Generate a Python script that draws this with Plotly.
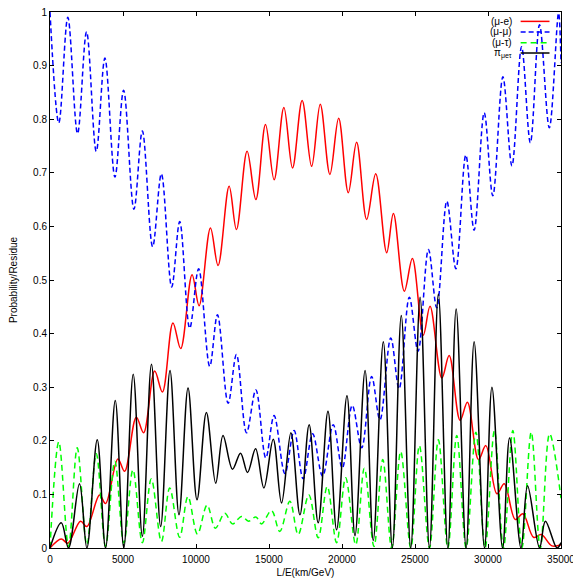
import plotly.graph_objects as go

# ---- data ----
x_mue = [0, 770, 1220, 2090, 2525, 3395, 3805, 4650, 5110, 5910, 6410, 7170, 7700, 8420, 8950,
         9730, 10210, 10990, 11510, 12270, 12770, 13500, 14100, 14760, 15350, 16020, 16610, 17270,
         17920, 18510, 19170, 19770, 20430, 21000, 21690, 22310, 23060, 23520, 24270, 24820, 25570,
         26030, 26840, 27340, 28090, 28590, 29350, 29850, 30610, 31110, 31870, 32390, 33120, 33650,
         34380, 35000]
y_mue = [0, 0.017, 0.009, 0.05, 0.04, 0.099, 0.083, 0.166, 0.143, 0.244, 0.215, 0.33, 0.291, 0.42,
         0.372, 0.51, 0.452, 0.597, 0.527, 0.675, 0.594, 0.74, 0.65, 0.79, 0.687, 0.822, 0.709, 0.835,
         0.712, 0.828, 0.697, 0.802, 0.663, 0.757, 0.613, 0.698, 0.551, 0.624, 0.479, 0.54, 0.397,
         0.451, 0.317, 0.359, 0.238, 0.272, 0.165, 0.191, 0.101, 0.12, 0.053, 0.064, 0.02, 0.025,
         0.004, 0.006]

x_mumu = [0, 605, 1220, 1886, 2504, 3168, 3760, 4447, 5042, 5749, 6325, 7031, 7628, 8335, 8884, 9570,
          10180, 10940, 11470, 12200, 12770, 13460, 14100, 14780, 15350, 16090, 16720, 17340, 17990,
          18670, 19400, 20020, 20700, 21350, 22030, 22600, 23340, 23910, 24610, 25210, 25920, 26490,
          27180, 27800, 28480, 29050, 29740, 30330, 31020, 31640, 32300, 32900, 33530, 34200, 34830,
          35000]
y_mumu = [1.0, 0.793, 0.99, 0.773, 0.963, 0.74, 0.914, 0.692, 0.854, 0.632, 0.778, 0.562, 0.698,
          0.487, 0.609, 0.41, 0.521, 0.339, 0.435, 0.27, 0.361, 0.215, 0.295, 0.168, 0.247, 0.139,
          0.219, 0.129, 0.213, 0.134, 0.23, 0.149, 0.266, 0.187, 0.32, 0.239, 0.392, 0.297, 0.468,
          0.367, 0.557, 0.448, 0.647, 0.521, 0.733, 0.593, 0.812, 0.657, 0.879, 0.713, 0.935, 0.756,
          0.976, 0.784, 0.998, 0.905]

x_mutau = [0, 605, 1270, 1865, 2525, 3170, 3805, 4440, 5055, 5680, 6325, 6940, 7630, 8200, 8880,
           9450, 10100, 10760, 11330, 11970, 12500, 13120, 13600, 14100, 14490, 15170, 15740, 16430,
           17000, 17730, 18370, 18990, 19630, 20250, 20940, 21530, 22190, 22790, 23400, 24020, 24710,
           25300, 25990, 26600, 27250, 27860, 28500, 29170, 29800, 30440, 31060, 31700, 32320, 32960,
           33580, 34220, 35000]
y_mutau = [0, 0.198, 0.003, 0.187, 0.006, 0.176, 0.003, 0.162, 0.009, 0.146, 0.01, 0.129, 0.012,
           0.112, 0.02, 0.096, 0.026, 0.08, 0.037, 0.065, 0.045, 0.059, 0.05, 0.058, 0.045, 0.07,
           0.031, 0.087, 0.025, 0.099, 0.019, 0.115, 0.01, 0.131, 0.006, 0.149, 0.003, 0.165, 0.0,
           0.18, 0.0, 0.191, 0.0, 0.202, 0.0, 0.21, 0.0, 0.216, 0.0, 0.219, 0.0, 0.219, 0.0, 0.216,
           0.0, 0.213, 0.093]

x_res = [0, 770, 1270, 2020, 2525, 3235, 3805, 4470, 5055, 5700, 6325, 6950, 7580, 8220, 8835, 9455,
         10070, 10710, 11350, 11850, 12500, 13050, 13530, 14080, 14650, 15290, 15860, 16500, 17120,
         17750, 18370, 19040, 19630, 20340, 20890, 21580, 22140, 22830, 23450, 24060, 24710, 25350,
         25990, 26600, 27250, 27820, 28500, 29050, 29760, 30270, 31000, 31480, 32260, 32710, 33530,
         33930, 34730, 35000]
y_res = [0, 0.047, 0, 0.12, 0, 0.202, 0, 0.275, 0, 0.324, 0.022, 0.343, 0.04, 0.331, 0.062, 0.2985,
         0.09, 0.253, 0.121, 0.21, 0.147, 0.177, 0.141, 0.185, 0.112, 0.203, 0.084, 0.215, 0.062,
         0.23, 0.047, 0.255, 0.034, 0.284, 0.023, 0.331, 0.014, 0.385, 0, 0.434, 0, 0.468, 0, 0.474,
         0, 0.446, 0, 0.385, 0, 0.30, 0, 0.205, 0, 0.116, 0, 0.05, 0, 0.01]

series_names = ["(μ-e)", "(μ-μ)", "(μ-τ)", "π<sub>μeτ</sub>"]
series_x = [x_mue, x_mumu, x_mutau, x_res]
series_y = [y_mue, y_mumu, y_mutau, y_res]

x_ticks = [0, 5000, 10000, 15000, 20000, 25000, 30000, 35000]
x_ticktext = ["0", "5000", "10000", "15000", "20000", "25000", "30000", "35000"]
y_ticks = [0, 0.1, 0.2, 0.3, 0.4, 0.5, 0.6, 0.7, 0.8, 0.9, 1.0]
y_ticktext = ["0", "0.1", "0.2", "0.3", "0.4", "0.5", "0.6", "0.7", "0.8", "0.9", "1"]

x_title = "L/E(km/GeV)"
y_title = "Probability/Residue"

# ---- styles ----
colors = ["#ff0000", "#0000ff", "#00ff00", "#000000"]
dashes = ["solid", "5px,3px", "6px,4px", "solid"]
FONT = "Liberation Sans, Arial, sans-serif"

fig = go.Figure()
for xs, ys, n, c, d in zip(series_x, series_y, series_names, colors, dashes):
    fig.add_trace(go.Scatter(x=xs, y=ys, mode="lines", name=n, showlegend=False,
                             line=dict(color=c, width=1.5, dash=d, shape="spline", smoothing=1.0)))

# gnuplot-style legend: text right-aligned, sample line to the right
leg_y = [0.9825, 0.9627, 0.9427, 0.9235]
for n, c, d, ly in zip(series_names, colors, dashes, leg_y):
    fig.add_annotation(xref="paper", yref="paper", x=0.909, y=ly, text=n, showarrow=False,
                       xanchor="right", yanchor="middle", font=dict(family=FONT, size=10, color="#000"))
    fig.add_shape(type="line", xref="paper", yref="paper", x0=0.921, x1=0.9775, y0=ly, y1=ly,
                  line=dict(color=c, width=1.5, dash=d))

axis_common = dict(showgrid=False, zeroline=False, showline=True, linecolor="#000", linewidth=1,
                   mirror="ticks", ticks="inside", ticklen=4, tickwidth=1, tickcolor="#000",
                   automargin=False, ticklabeloverflow="allow",
                   tickfont=dict(family=FONT, size=10, color="#000"))

# the page body adds an 8px offset, so the figure is 573px and margins are shifted
fig.update_layout(
    width=573, height=573, autosize=False,
    margin=dict(l=42, r=19.5, t=4.3, b=32.7, pad=0),
    paper_bgcolor="white", plot_bgcolor="white",
    xaxis=dict(range=[0, 35000], tickmode="array", tickvals=x_ticks, ticktext=x_ticktext,
               ticklabelstandoff=2,
               title=dict(text=x_title, font=dict(family=FONT, size=10, color="#000"), standoff=4),
               **axis_common),
    yaxis=dict(range=[0, 1], tickmode="array", tickvals=y_ticks, ticktext=y_ticktext,
               ticklabelstandoff=0,
               title=dict(text=y_title, font=dict(family=FONT, size=10, color="#000"), standoff=19),
               **axis_common),
)

fig.write_html("out.html")
